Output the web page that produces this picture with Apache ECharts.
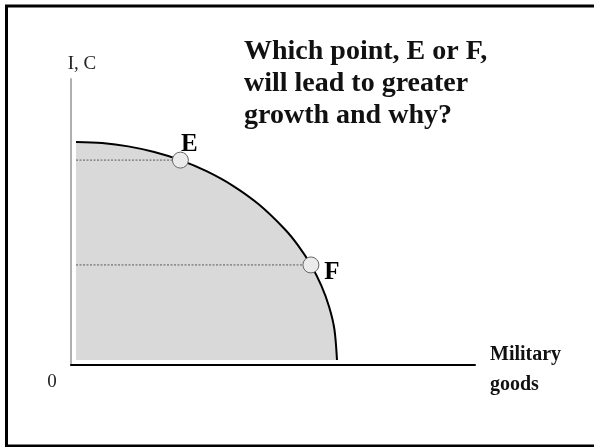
<!DOCTYPE html>
<html>
<head>
<meta charset="utf-8">
<script src="https://cdn.jsdelivr.net/npm/echarts@6/dist/echarts.min.js"></script>
<style>
  html, body { margin: 0; padding: 0; background: #fff; }
  #chart { width: 594px; height: 447px; }
</style>
</head>
<body>
<div id="chart"></div>
<script>
// Production possibilities frontier: military goods vs. investment/consumption
const frontierMilitary = [0, 10, 20, 30, 40, 50, 60, 70, 80, 85, 90, 94, 97, 99, 100];
const frontierIC       = [100, 99.5, 98, 95.4, 91.7, 86.6, 80, 71.4, 60, 52.7, 43.6, 34.1, 24.3, 14.1, 0];

const pointNames    = ['E', 'F'];
const pointMilitary = [40, 90];
const pointIC       = [91.7, 43.6];

const questionLines = ['Which point, E or F,', 'will lead to greater', 'growth and why?'];
const yAxisName = 'I, C';
const xAxisName = ['Military', 'goods'];
const originLabel = '0';

const serif = '"Liberation Serif", "Times New Roman", serif';

const frontierData = frontierMilitary.map((x, i) => [x, frontierIC[i]]);
const pointData = pointNames.map((n, i) => ({ name: n, value: [pointMilitary[i], pointIC[i]] }));

// dotted guides from the vertical axis to each point
const guideSeries = pointNames.map((n, i) => ({
  type: 'line',
  data: [[0, pointIC[i]], [pointMilitary[i], pointIC[i]]],
  symbol: 'none',
  silent: true,
  lineStyle: { color: '#5a5a5a', width: 1, type: [2, 1.5], opacity: 1 },
  z: 3
}));

const chart = echarts.init(document.getElementById('chart'), null, { renderer: 'canvas' });

chart.setOption({
  animation: false,
  backgroundColor: '#fff',
  grid: { left: 71, right: 119, top: 79, bottom: 82, containLabel: false },
  xAxis: {
    type: 'value',
    min: -1.9157,
    max: 152.87,
    axisLine: { onZero: false, lineStyle: { color: '#000', width: 2 } },
    axisTick: { show: false },
    axisLabel: { show: false },
    splitLine: { show: false }
  },
  yAxis: {
    type: 'value',
    min: -2.2936,
    max: 128.9,
    axisLine: { show: true, onZero: false, lineStyle: { color: '#b0b0b0', width: 2 } },
    axisTick: { show: false },
    axisLabel: { show: false },
    splitLine: { show: false }
  },
  series: [
    {
      type: 'line',
      data: frontierData,
      symbol: 'none',
      smooth: 0.3,
      silent: true,
      lineStyle: { color: '#000', width: 2 },
      areaStyle: { color: '#d9d9d9', opacity: 1, origin: 0 },
      z: 2
    },
    ...guideSeries,
    {
      type: 'scatter',
      data: pointData,
      symbol: 'circle',
      symbolSize: 16,
      itemStyle: { color: '#ebebeb', borderColor: '#666', borderWidth: 1, opacity: 1 },
      label: {
        show: true,
        formatter: p => p.name,
        fontFamily: serif,
        fontWeight: 'bold',
        fontSize: 25,
        color: '#000',
        opacity: 1,
        position: 'inside'
      },
      labelLayout: function (params) {
        const idx = params.dataIndex;
        const r = params.rect;
        const cx = r.x + r.width / 2, cy = r.y + r.height / 2;
        const off = idx === 0 ? [9, -16] : [21, 8];
        return { x: cx + off[0], y: cy + off[1], align: 'center', verticalAlign: 'middle' };
      },
      z: 5
    }
  ],
  graphic: [
    {
      type: 'rect',
      shape: { x: 6.5, y: 6, width: 660, height: 440 },
      style: { fill: 'none', stroke: '#000', lineWidth: 3 },
      silent: true,
      z: 10
    },
    {
      type: 'text',
      left: 244,
      top: 36,
      style: {
        text: questionLines.join('\n'),
        font: 'bold 28px ' + serif,
        lineHeight: 32,
        fill: '#111'
      }
    },
    {
      type: 'text',
      x: 82,
      y: 64,
      style: {
        text: yAxisName,
        font: '19px ' + serif,
        fill: '#222',
        align: 'center',
        verticalAlign: 'middle'
      }
    },
    {
      type: 'text',
      x: 52,
      y: 382,
      style: {
        text: originLabel,
        font: '19px ' + serif,
        fill: '#222',
        align: 'center',
        verticalAlign: 'middle'
      }
    },
    {
      type: 'text',
      left: 490,
      top: 340,
      style: {
        text: xAxisName.join('\n'),
        font: 'bold 20px ' + serif,
        lineHeight: 30,
        fill: '#111'
      }
    }
  ]
});
</script>
</body>
</html>
